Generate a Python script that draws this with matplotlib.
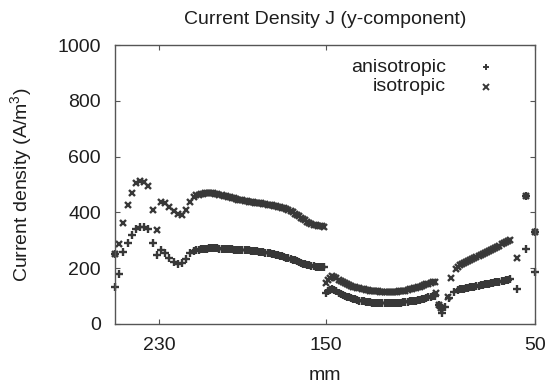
import matplotlib
matplotlib.use("Agg")
import matplotlib.pyplot as plt

plt.rcParams['font.family'] = ['Liberation Sans', 'DejaVu Sans']
plt.rcParams['mathtext.fontset'] = 'custom'
plt.rcParams['mathtext.rm'] = 'Liberation Sans'
plt.rcParams['mathtext.it'] = 'Liberation Sans:italic'

# ---- data (x in mm, current density in A/m^3) ----
x_aniso = [251, 251, 249, 247, 245, 243, 241, 239, 237, 235, 233, 231, 229, 227, 225, 223, 221, 219, 217, 215, 213,
           212, 211, 210, 209, 208, 207, 206, 205, 204, 203, 202, 201, 200, 199, 198, 197, 196, 195, 194, 193,
           192, 191, 190, 189, 188, 187, 186, 185, 184, 183, 182, 181, 180, 179, 178, 177, 176, 175, 174, 173,
           172, 171, 170, 169, 168, 167, 166, 165, 164, 163, 162, 161, 160, 159, 158, 157, 156, 155, 154, 153,
           152, 151,
           150, 149, 148, 147, 146, 145, 144, 143, 142, 141, 140, 139, 138, 137, 136, 135, 134, 133, 132, 131,
           130, 129, 128, 127, 126, 125, 124, 123, 122, 121, 120, 119, 118, 117, 116, 115, 114, 113, 112, 111,
           110, 109, 108, 107, 106, 105, 104, 103, 102, 101, 100, 99, 98,
           96, 95, 94.5, 93, 91, 89,
           87, 86, 85, 84, 83, 82, 81, 80, 79, 78, 77, 76, 75, 74, 73, 72, 71, 70, 69, 68, 67, 66, 65, 64, 63, 62,
           58.5, 54.3, 54.3, 50, 50]
y_aniso = [134, 251, 179, 259, 291, 319, 339, 346, 349, 339, 289, 247, 265, 256, 235, 223, 214, 217, 232, 253, 262,
           266, 267, 268, 269, 270, 270, 271, 271, 271, 271, 271, 270, 270, 270, 269, 269, 268, 268, 267, 267,
           266, 266, 265, 265, 264, 264, 263, 262, 261, 260, 259, 258, 257, 256, 255, 253, 252, 250, 248, 246,
           244, 242, 240, 238, 236, 234, 231, 228, 225, 222, 219, 216, 214, 212, 210, 208, 207, 206, 205, 204,
           203, 203,
           110, 118, 122, 124, 122, 118, 112, 108, 104, 101, 98, 95, 92, 90, 88, 86, 84, 82, 81, 80,
           79, 78, 77, 76, 75, 75, 74, 74, 74, 74, 74, 75, 75, 76, 76, 77, 77, 78, 79, 80,
           81, 82, 83, 84, 86, 87, 89, 91, 93, 95, 97, 99, 100,
           68, 56, 41, 62, 92, 116,
           122, 124, 125, 127, 128, 130, 131, 133, 134, 136, 137, 139, 140, 142, 143, 145, 146, 148, 149, 151,
           152, 154, 155, 157, 158, 160,
           124, 269, 459, 188, 331]

x_iso = [251, 249, 247, 245, 243, 241, 239, 237, 235, 233, 231, 229, 227, 225, 223, 221, 219, 217, 215, 213,
         212, 211, 210, 209, 208, 207, 206, 205, 204, 203, 202, 201, 200, 199, 198, 197, 196, 195, 194, 193,
         192, 191, 190, 189, 188, 187, 186, 185, 184, 183, 182, 181, 180, 179, 178, 177, 176, 175, 174, 173,
         172, 171, 170, 169, 168, 167, 166, 165, 164, 163, 162, 161, 160, 159, 158, 157, 156, 155, 154, 153,
         152, 151,
         150, 149, 148, 147, 146, 145, 144, 143, 142, 141, 140, 139, 138, 137, 136, 135, 134, 133, 132, 131,
         130, 129, 128, 127, 126, 125, 124, 123, 122, 121, 120, 119, 118, 117, 116, 115, 114, 113, 112, 111,
         110, 109, 108, 107, 106, 105, 104, 103, 102, 101, 100, 99, 98,
         97.5, 96, 95, 91.5, 90, 88,
         87, 86, 85, 84, 83, 82, 81, 80, 79, 78, 77, 76, 75, 74, 73, 72, 71, 70, 69, 68, 67, 66, 65, 64, 63, 62,
         58.8, 54.3, 50]
y_iso = [251, 285, 363, 427, 470, 504, 513, 510, 496, 409, 337, 438, 432, 418, 406, 394, 391, 409, 438, 456,
         462, 464, 466, 467, 468, 469, 469, 469, 468, 467, 466, 464, 462, 460, 458, 456, 454, 452, 450, 448,
         446, 444, 443, 441, 440, 438, 437, 436, 435, 434, 433, 432, 431, 430, 428, 427, 426, 424, 423, 421,
         419, 417, 415, 412, 409, 405, 401, 396, 391, 386, 381, 376, 371, 366, 362, 359, 356, 354, 352, 351,
         350, 349,
         146, 158, 166, 172, 170, 164, 158, 153, 149, 146, 143, 140, 137, 134, 132, 130, 128, 126, 124, 123,
         121, 120, 119, 118, 117, 117, 116, 116, 116, 116, 116, 116, 116, 116, 116, 117, 118, 119, 120, 122,
         124, 126, 128, 130, 132, 134, 137, 139, 142, 145, 148, 150, 152,
         112, 68, 56, 98, 164, 197,
         205, 212, 216, 220, 223, 227, 230, 234, 237, 240, 244, 247, 250, 254, 257, 261, 265, 269, 273, 277,
         281, 285, 289, 293, 297, 301,
         235, 459, 331]

x_ticks = [230, 150, 50]
y_ticks = [0, 200, 400, 600, 800, 1000]
series_labels = ['anisotropic', 'isotropic']

INK = '#383838'
TXT = '#1e1e1e'
FS = 14

W, H = 555, 385
AX_L, AX_R, AX_T, AX_B = 115, 535, 45, 324

fig = plt.figure(figsize=(W / 100, H / 100), dpi=100)
ax = fig.add_axes([AX_L / W, 1 - AX_B / H, (AX_R - AX_L) / W, (AX_B - AX_T) / H])

ax.plot(x_aniso, y_aniso, linestyle='none', marker='+', markersize=6.2, markeredgewidth=1.7,
        color=INK, clip_on=False)
ax.plot(x_iso, y_iso, linestyle='none', marker='x', markersize=5, markeredgewidth=1.7,
        color=INK, clip_on=False)

ax.set_xlim(251, 50)
ax.set_ylim(0, 1000)
ax.set_xticks(x_ticks)
ax.set_yticks(y_ticks)
ax.tick_params(axis='both', direction='in', length=3.5, width=0.8, color='#555555', labelsize=FS,
               top=True, right=True, labelcolor=TXT)
ax.tick_params(axis='x', pad=9.5)
ax.tick_params(axis='y', pad=10)
for s in ax.spines.values():
    s.set_color('#555555')
    s.set_linewidth(1.0)

# title, axis labels
fig.text(((AX_L + AX_R) / 2) / W, 1 - 19 / H, 'Current Density J (y-component)',
         ha='center', va='center', fontsize=FS, color=TXT)
ax.set_xlabel('mm', fontsize=FS, color=TXT)
ax.xaxis.set_label_coords(0.5, (AX_B - 376) / (AX_B - AX_T))
ax.xaxis.label.set_va('center')
ax.set_ylabel('Current density (A/m$^3$)', fontsize=FS, color=TXT)
ax.yaxis.set_label_coords((21 - AX_L) / (AX_R - AX_L), 0.5)
ax.yaxis.label.set_va('center')

# key (gnuplot style: text right-aligned, sample to the right)
key_rows_y = [67, 86.6]
key_markers = [dict(marker='+', markersize=5, markeredgewidth=1.4),
               dict(marker='x', markersize=4, markeredgewidth=1.4)]
for lab, py, mk in zip(series_labels, key_rows_y, key_markers):
    fy = (AX_B - py) / (AX_B - AX_T)
    ax.text((446 - AX_L) / (AX_R - AX_L), fy, lab, transform=ax.transAxes,
            ha='right', va='center', fontsize=FS, color=TXT)
    ax.plot([(486 - AX_L) / (AX_R - AX_L)], [fy], transform=ax.transAxes,
            linestyle='none', color=INK, clip_on=False, **mk)

fig.savefig('out.png', dpi=100)
